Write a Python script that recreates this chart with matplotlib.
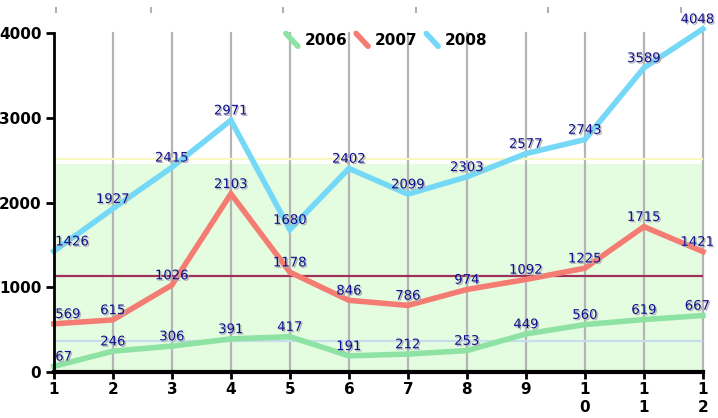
import matplotlib.pyplot as plt
import matplotlib.patheffects as pe
from matplotlib.legend_handler import HandlerLine2D
from matplotlib.lines import Line2D
import numpy as np

# --- data ---
months = list(range(1, 13))
tick_labels = ["1", "2", "3", "4", "5", "6", "7", "8", "9", "1\n0", "1\n1", "1\n2"]
series_names = ["2006", "2007", "2008"]
v2006 = [67, 246, 306, 391, 417, 191, 212, 253, 449, 560, 619, 667]
v2007 = [569, 615, 1026, 2103, 1178, 846, 786, 974, 1092, 1225, 1715, 1421]
v2008 = [1426, 1927, 2415, 2971, 1680, 2402, 2099, 2303, 2577, 2743, 3589, 4048]

colors = ["#8ee2a4", "#f47c72", "#74d8f6"]
avg_colors = ["#c8dcf0", "#a0305a", "#f8f8c0"]
label_color = "#101090"
font = ["DejaVu Sans Condensed", "Liberation Sans Narrow", "DejaVu Sans"]


class DiagonalHandler(HandlerLine2D):
    # legend key drawn as a short falling diagonal stroke
    def create_artists(self, legend, orig_handle, xdescent, ydescent,
                       width, height, fontsize, trans):
        x0 = -xdescent + width * 0.2
        x1 = -xdescent + width * 0.8
        y0 = -ydescent + height * 1.1
        y1 = -ydescent - height * 0.1
        ln = Line2D([x0, x1], [y0, y1], color=orig_handle.get_color(), lw=4,
                    solid_capstyle="round", transform=trans)
        return [ln]


fig = plt.figure(figsize=(7.18, 4.18), dpi=100)
ax = fig.add_axes([0.075, 0.110, 0.904, 0.811])
ax.set_xlim(1, 12)
ax.set_ylim(0, 4000)

all_series = [v2006, v2007, v2008]

# shaded band up to the 2008 average
ax.axhspan(0, np.mean(v2008) - 60, color="#e4fde0", zorder=0, lw=0)

# vertical grid lines
for m in months[1:]:
    ax.axvline(m, color="#b4b4b4", lw=1.6, zorder=1, clip_on=False)

# average lines
for vals, c in zip(all_series, avg_colors):
    ax.axhline(np.mean(vals), color=c, lw=1.6, zorder=2)

# series lines
handles = []
for vals, c, name in zip(all_series, colors, series_names):
    ln, = ax.plot(months, vals, color=c, lw=4, zorder=3, clip_on=False,
                  solid_joinstyle="miter")
    handles.append(ln)

# data labels
shadow = [pe.withSimplePatchShadow(offset=(1, -1), shadow_rgbFace="#b0b0b0", alpha=1)]
for vals in all_series:
    for m, v in zip(months, vals):
        dx = 1 if m == 1 else (-4 if m == 12 else 0)
        ax.annotate(str(v), (m, v), xytext=(dx, 2),
                    textcoords="offset points",
                    ha="left" if m == 1 else "center", va="bottom",
                    fontsize=9.5, color=label_color, family=font,
                    zorder=5, annotation_clip=False, path_effects=shadow)

# axes styling
for s in ["top", "right"]:
    ax.spines[s].set_visible(False)
ax.spines["left"].set_linewidth(2)
ax.spines["bottom"].set_linewidth(3)
ax.spines["left"].set_zorder(6)
ax.spines["bottom"].set_zorder(6)
ax.set_xticks(months)
ax.set_xticklabels(tick_labels, linespacing=1.25)
ax.set_yticks([0, 1000, 2000, 3000, 4000])
ax.tick_params(axis="y", length=6, width=2, pad=3)
ax.tick_params(axis="x", length=5, width=2, pad=2)
for lbl in ax.get_xticklabels():
    lbl.set_family(font)
    lbl.set_fontweight("bold")
    lbl.set_fontsize(11)
    lbl.set_va("top")
for lbl in ax.get_yticklabels():
    lbl.set_family(font)
    lbl.set_fontweight("bold")
    lbl.set_fontsize(11)

leg = ax.legend(handles, series_names, loc="upper center", bbox_to_anchor=(0.51, 1.04),
                ncol=3, frameon=False, handlelength=1.3, handletextpad=0.2,
                columnspacing=0.3, handler_map={Line2D: DiagonalHandler()},
                prop={"family": font, "weight": "bold", "size": 11})
leg.set_zorder(7)

# small marks at the top edge
for xf in [56, 151, 283, 416, 548, 681]:
    fig.add_artist(Line2D([xf / 718, xf / 718], [1 - 8 / 418, 1 - 12 / 418],
                          color="#b0b0b0", lw=1.5))

fig.savefig("out.png", dpi=100, facecolor="white")
